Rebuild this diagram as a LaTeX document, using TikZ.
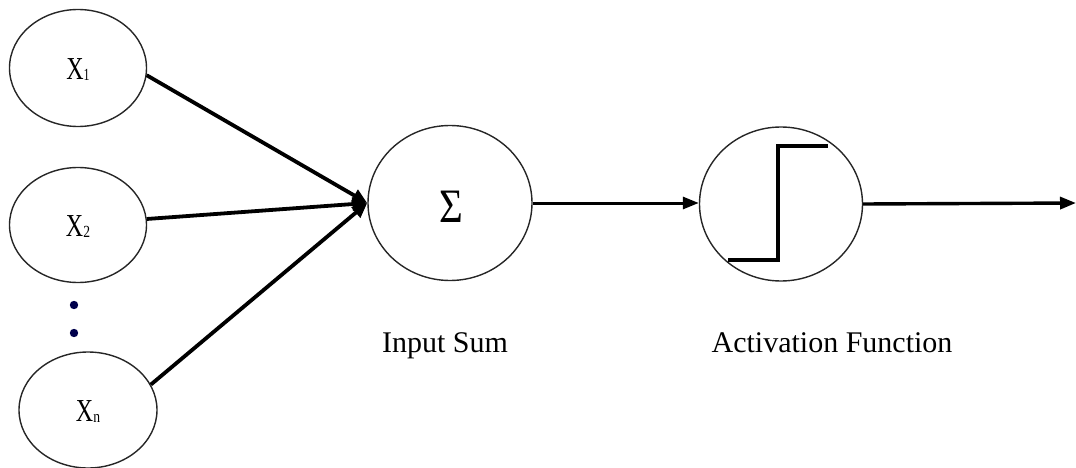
\documentclass[tikz,border=0pt]{standalone}
\usepackage{fontspec}
\setmainfont{Liberation Serif}
\usetikzlibrary{shapes.geometric,arrows.meta}
\begin{document}
\begin{tikzpicture}[x=1pt,y=-1pt,
  inell/.style={draw=black!85,line width=1.4pt,ellipse,inner sep=0pt},
  conn/.style={line width=3.8pt,-{Triangle[length=15pt,width=13pt]}},
  lbl/.style={font=\fontsize{30}{30}\selectfont,anchor=base,inner sep=0pt},
  xlbl/.style={font=\fontsize{32}{32}\selectfont,inner sep=0pt},
  dotc/.style={fill=blue!30!black}]
\useasboundingbox (0,0) rectangle (1076,468);
\node[inell,minimum width=137pt,minimum height=117pt] (x1) at (78,68) {};
\node[inell,minimum width=137pt,minimum height=115pt] (x2) at (78,225) {};
\node[inell,minimum width=138pt,minimum height=116pt] (xn) at (88,410) {};
\node[inell,minimum width=164pt,minimum height=155pt] (sum) at (450,203) {};
\node[inell,minimum width=163pt,minimum height=154pt] (act) at (781,204) {};
\node[xlbl] (t1) at (78,70) {\scalebox{0.75}[1]{X}\raisebox{-1pt}{\fontsize{17}{17}\selectfont\scalebox{0.7}[1]{1}}};
\node[xlbl] (t2) at (78,227) {\scalebox{0.75}[1]{X}\raisebox{-1pt}{\fontsize{17}{17}\selectfont\scalebox{0.8}[1]{2}}};
\node[xlbl] (tn) at (88,412) {\scalebox{0.75}[1]{X}\raisebox{-1pt}{\fontsize{17}{17}\selectfont\scalebox{0.8}[1]{n}}};
\node[inner sep=0pt,font=\fontsize{48}{48}\selectfont] (sig) at (451,207) {\scalebox{0.85}[1]{Σ}};
\fill[dotc] (74,305) circle (4.2pt);
\fill[dotc] (74,333) circle (4.2pt);
\draw[conn] (x1.-6) -- (sum.west);
\draw[conn] (x2.5) -- (sum.west);
\draw[conn] (xn.22) -- (sum.west);
\draw[line width=3pt,-{Triangle[length=16pt,width=12pt]}] (sum.east) -- (sum.east -| act.west);
\coordinate (out) at (1076,203);
\draw[line width=3.4pt,-{Triangle[length=16pt,width=12pt]}] (act.east) -- (out);
\draw[line width=3.2pt] ([shift={(-53,56)}]act.center) -- ++(50,0) -- ++(0,-114) -- ++(50,0);
\node[lbl] (l1) at (445,352) {Input Sum};
\node[lbl] (l2) at (832,352) {Activation Function};
\end{tikzpicture}
\end{document}
